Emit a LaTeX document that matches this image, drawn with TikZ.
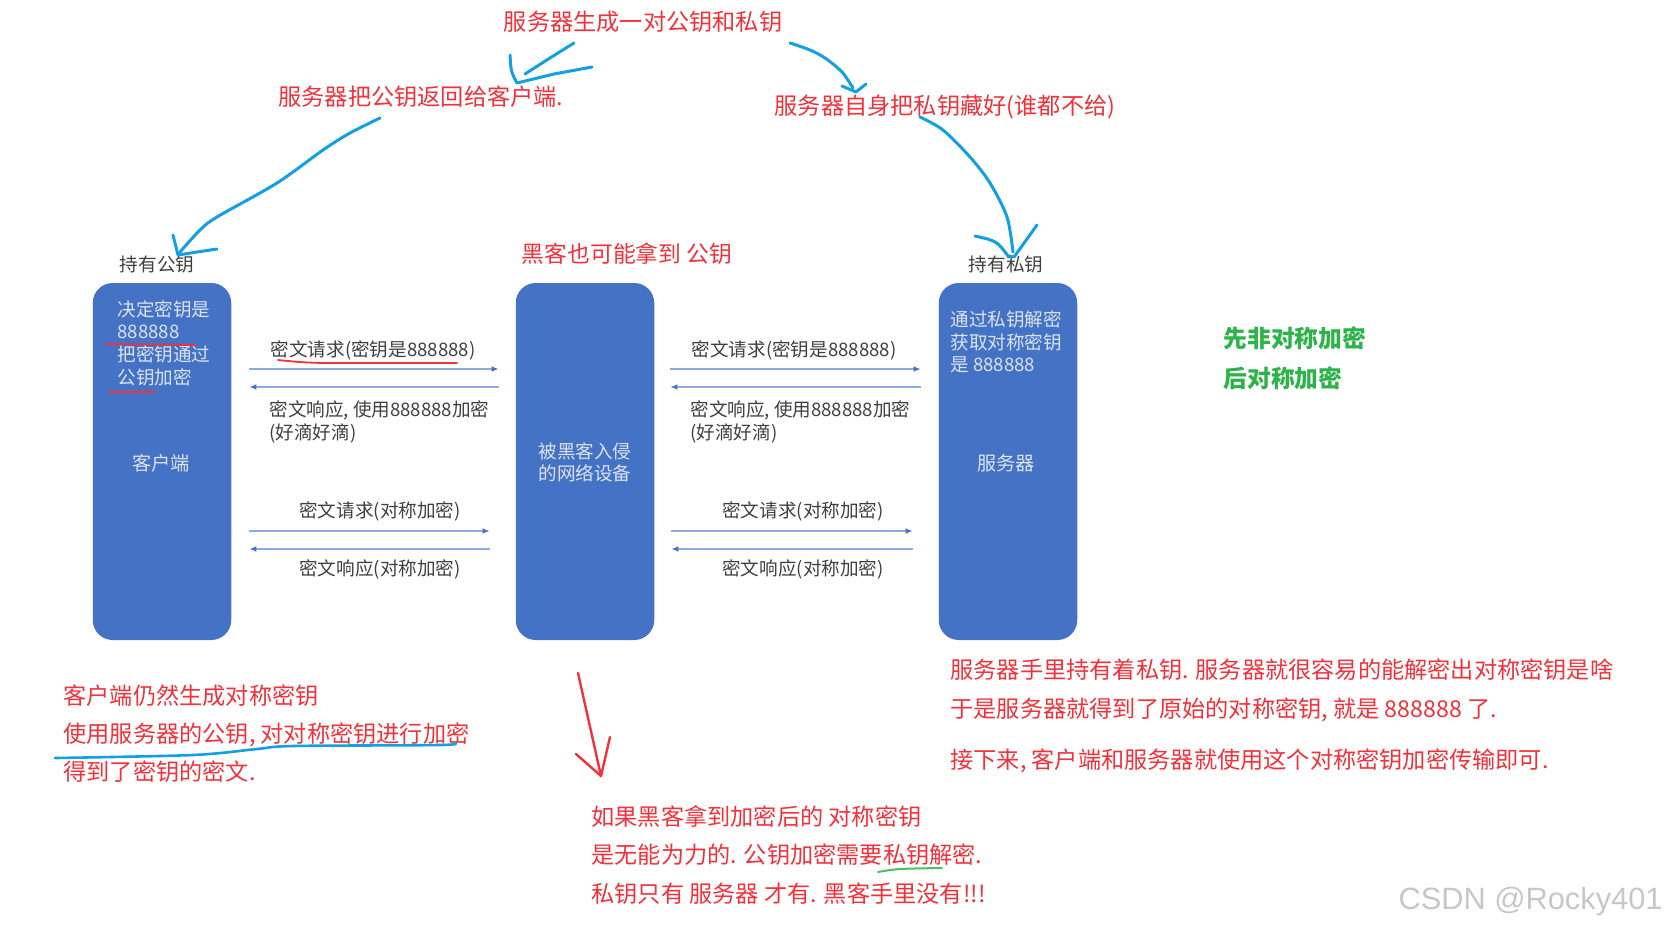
\documentclass[tikz,border=0pt]{standalone}
\usepackage{fontspec}
\setmainfont{Noto Sans CJK SC}
\newfontfamily\markfont{Liberation Sans}
\usetikzlibrary{arrows.meta,calc}
\definecolor{hostblue}{HTML}{4472C4}
\definecolor{hostink}{HTML}{DCE3F2}
\definecolor{msgline}{HTML}{8FAADC}
\definecolor{msgink}{HTML}{3F3F3F}
\definecolor{notered}{HTML}{F2313B}
\definecolor{notegreen}{HTML}{2DB34A}
\definecolor{penblue}{HTML}{12A0E3}
\tikzset{
  hostbox/.style={
    fill=hostblue,
    rounded corners=10pt,
    minimum width=69.25pt,
    minimum height=178.5pt,
    inner sep=0pt
  },
  hosttext/.style={
    text=hostink,
    align=left,
    inner sep=0pt,
    font=\fontsize{9.3pt}{11.35pt}\selectfont
  },
  msgtext/.style={
    text=msgink,
    align=left,
    inner sep=0pt,
    font=\fontsize{9.3pt}{11.5pt}\selectfont
  },
  notetext/.style={
    text=notered,
    align=left,
    inner sep=0pt,
    font=\fontsize{11.6pt}{19pt}\selectfont
  },
  msgarrow/.style={
    draw=msgline,
    line width=0.7pt,
    -{Latex[length=3.5pt,width=3pt,color=hostblue]}
  },
  penstroke/.style={
    draw=penblue,
    line width=1.5pt,
    line cap=round,
    line join=round
  },
  redstroke/.style={
    draw=notered,
    line width=0.9pt,
    line cap=round,
    line join=round
  }
}

\begin{document}
\begin{tikzpicture}[x=0.5pt,y=0.5pt]
\fill[white] (0,0) rectangle (1668,-933);
\useasboundingbox (0,0) rectangle (1668,-933);

% the three hosts
\node[hostbox] (client) at (162,-461.5) {};
\node[hostbox] (hacker) at (585,-461.5) {};
\node[hostbox] (server) at (1008,-461.5) {};

\node[hosttext, anchor=west] (clientkey) at (117,-343) {决定密钥是\\888888\\把密钥通过\\公钥加密};
\node[hosttext, font=\fontsize{9.6pt}{11.35pt}\selectfont] (clientname) at (161,-463) {客户端};
\node[hosttext, align=center] (hackername) at (585,-462.5) {被黑客入侵\\的网络设备};
\node[hosttext, anchor=west] (serverkey) at (950,-342) {通过私钥解密\\获取对称密钥\\是 888888};
\node[hosttext, font=\fontsize{9.6pt}{11.35pt}\selectfont] (servername) at (1006,-463) {服务器};

\node[msgtext] (pubhold) at (157,-264) {持有公钥};
\node[msgtext] (privhold) at (1006,-264) {持有私钥};

% message rows
\coordinate (rowA) at (0,-369);
\coordinate (rowB) at (0,-387);
\coordinate (rowC) at (0,-531);
\coordinate (rowD) at (0,-549);

\draw[msgarrow, shorten <=8.9pt, shorten >=8.4pt] (client.east |- rowA) -- (hacker.west |- rowA);
\draw[msgarrow, shorten <=8.4pt, shorten >=8.9pt] (hacker.west |- rowB) -- (client.east |- rowB);
\draw[msgarrow, shorten <=8.9pt, shorten >=12.9pt] (client.east |- rowC) -- (hacker.west |- rowC);
\draw[msgarrow, shorten <=12.9pt, shorten >=8.9pt] (hacker.west |- rowD) -- (client.east |- rowD);

\draw[msgarrow, shorten <=7.9pt, shorten >=8.9pt] (hacker.east |- rowA) -- (server.west |- rowA);
\draw[msgarrow, shorten <=8.9pt, shorten >=7.9pt] (server.west |- rowB) -- (hacker.east |- rowB);
\draw[msgarrow, shorten <=8.4pt, shorten >=12.9pt] (hacker.east |- rowC) -- (server.west |- rowC);
\draw[msgarrow, shorten <=12.9pt, shorten >=8.4pt] (server.west |- rowD) -- (hacker.east |- rowD);

\node[msgtext] (reqkeyL) at (373,-350) {密文请求(密钥是888888)};
\node[msgtext, anchor=west] (respkeyL) at (269,-421.5) {密文响应, 使用888888加密\\(好滴好滴)};
\node[msgtext] (reqsymL) at (380,-511) {密文请求(对称加密)};
\node[msgtext] (respsymL) at (380,-569) {密文响应(对称加密)};

\node[msgtext] (reqkeyR) at (794,-350) {密文请求(密钥是888888)};
\node[msgtext, anchor=west] (respkeyR) at (690,-421.5) {密文响应, 使用888888加密\\(好滴好滴)};
\node[msgtext] (reqsymR) at (803,-511) {密文请求(对称加密)};
\node[msgtext] (respsymR) at (803,-569) {密文响应(对称加密)};

% red notes
\node[notetext] (keygen) at (643,-22) {服务器生成一对公钥和私钥};
\node[notetext] (sendpub) at (421,-97) {服务器把公钥返回给客户端.};
\node[notetext] (hidepriv) at (945,-107) {服务器自身把私钥藏好(谁都不给)};
\node[notetext, font=\fontsize{11.4pt}{19pt}\selectfont] (hackpub) at (627,-254) {黑客也可能拿到 公钥};
\node[notetext, anchor=west] (clientnote) at (63,-734) {客户端仍然生成对称密钥\\使用服务器的公钥, 对对称密钥进行加密\\得到了密钥的密文.};
\node[notetext, anchor=west, font=\fontsize{11.6pt}{19.25pt}\selectfont] (hacknote) at (591,-854.5) {如果黑客拿到加密后的 对称密钥\\是无能为力的. 公钥加密需要私钥解密.\\私钥只有 服务器 才有. 黑客手里没有!!!};
\node[notetext, anchor=west, font=\fontsize{11.6pt}{19.5pt}\selectfont] (servernote) at (950,-690.5) {服务器手里持有着私钥. 服务器就很容易的能解密出对称密钥是啥\\于是服务器就得到了原始的对称密钥, 就是 888888 了.};
\node[notetext, anchor=west] (nextnote) at (950,-761) {接下来, 客户端和服务器就使用这个对称密钥加密传输即可.};

\node[notetext, text=notegreen, anchor=west, font=\bfseries\fontsize{11.9pt}{20pt}\selectfont] (order) at (1223,-358) {先非对称加密\\后对称加密};

% hand drawn marks
\draw[penstroke] plot[smooth] coordinates {(574,-43) (550,-58) (525,-74)};
\draw[penstroke] (510,-55) .. controls (511,-72) .. (517,-83) -- (554,-74) -- (592,-67);
\draw[penstroke] plot[smooth] coordinates {(790,-43) (810,-50) (825,-58) (842,-72) (853,-88)};
\draw[penstroke] (842,-86) -- (856,-92) -- (866,-84);
\draw[penstroke] plot[smooth] coordinates {(380,-118) (350,-133) (323,-150) (277,-183) (217,-217) (200,-230) (180,-252)};
\draw[penstroke] (173,-235) -- (178,-255) -- (197,-252) -- (217,-249);
\draw[penstroke] plot[smooth] coordinates {(920,-117) (943,-130) (970,-157) (990,-183) (1007,-217) (1013,-252)};
\draw[penstroke] (975,-236) .. controls (997,-241) .. (1008,-256) -- (1014,-257) -- (1037,-225);
\draw[penstroke, line width=1.3pt] plot[smooth] coordinates {(55,-758) (193,-755) (257,-749) (293,-746) (440,-745) (455,-743)};

\draw[redstroke, line width=1.2pt] (578,-673) -- (601,-776);
\draw[redstroke, line width=1.2pt] (576,-754) -- (601,-776) -- (610,-737);
\draw[redstroke] (106,-344) -- (195,-345);
\draw[redstroke] (109,-392) -- (155,-392);
\draw[redstroke] plot[smooth] coordinates {(278,-360) (300,-362) (327,-363) (400,-363) (457,-363)};
\draw[draw=notegreen!85!white, line width=1pt, line cap=round] plot[smooth] coordinates {(878,-872) (900,-869) (942,-868)};

\node[anchor=east, inner sep=0pt, text=black!22, font=\markfont\fontsize{15.4pt}{18pt}\selectfont] (mark) at (1663,-902) {CSDN @Rocky401};
\end{tikzpicture}
\end{document}
